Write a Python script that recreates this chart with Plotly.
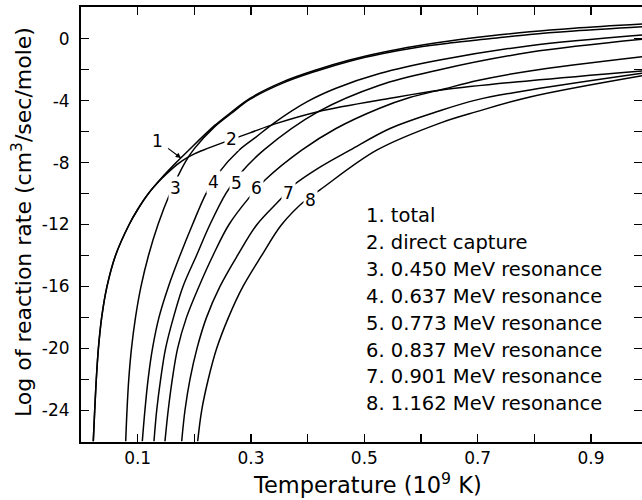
import plotly.graph_objects as go

# ---------------- data ----------------
# Temperature (10^9 K) and log10 reaction rate (cm^3/sec/mole) for each curve
t_total = [0.0217, 0.0242, 0.0270, 0.0307, 0.0365, 0.0459, 0.0609, 0.0850, 0.1005, 0.119,
           0.142, 0.168, 0.190, 0.236, 0.265, 0.298, 0.357, 0.416, 0.474, 0.533,
           0.592, 0.65, 0.72, 0.792, 0.87, 0.99]
y_total = [-26, -24, -22, -20, -18, -16, -14, -12, -11, -10,
           -9, -8, -7.2, -5.6, -4.75, -3.85, -2.77, -2.0, -1.37, -0.87,
           -0.47, -0.15, 0.17, 0.45, 0.68, 0.95]

t_direct = [0.0217, 0.0242, 0.0270, 0.0307, 0.0365, 0.0459, 0.0609, 0.0850, 0.1005, 0.119,
            0.142, 0.16, 0.1777, 0.20, 0.2153, 0.2541, 0.2982, 0.3423, 0.4182, 0.5453,
            0.6388, 0.7924, 0.99]
y_direct = [-26, -24, -22, -20, -18, -16, -14, -12, -11, -10,
            -9.05, -8.42, -7.9, -7.44, -7.2, -6.66, -6.08, -5.5, -4.71, -3.85,
            -3.3, -2.71, -2.08]

t_r450 = [0.0789, 0.0812, 0.0843, 0.0891, 0.0962, 0.1059, 0.1191, 0.1359, 0.1570, 0.1835,
          0.200, 0.236, 0.265, 0.298, 0.357, 0.416, 0.474, 0.533, 0.592, 0.65,
          0.72, 0.792, 0.87, 0.99]
y_r450 = [-26, -24, -22, -20, -18, -16, -14, -12, -10, -8,
          -7.1, -5.68, -4.83, -3.92, -2.85, -2.08, -1.45, -0.95, -0.56, -0.28,
          0.0, 0.28, 0.5, 0.77]

t_r637 = [0.1082, 0.1128, 0.1184, 0.1262, 0.1376, 0.1544, 0.1747, 0.1968, 0.2206, 0.2426,
          0.2788, 0.3088, 0.3423, 0.400, 0.450, 0.5269, 0.633, 0.792, 0.99]
y_r637 = [-26, -24, -22, -20, -18, -16, -14, -12, -10, -8.68,
          -7.2, -6.35, -5.4, -4.05, -3.2, -2.25, -1.38, -0.45, 0.24]

t_r773 = [0.1288, 0.1336, 0.1405, 0.1493, 0.1632, 0.1800, 0.2038, 0.2276, 0.2555, 0.2788,
          0.3229, 0.4187, 0.5269, 0.633, 0.792, 0.99]
y_r773 = [-26, -24, -22, -20, -18, -16, -14, -12, -10, -8.8,
          -7.18, -4.71, -3.0, -2.0, -0.88, -0.04]

t_r837 = [0.1482, 0.1539, 0.1611, 0.1705, 0.1862, 0.2082, 0.2329, 0.2612, 0.2982, 0.3247,
          0.3895, 0.450, 0.5269, 0.580, 0.6388, 0.700, 0.792, 0.99]
y_r837 = [-26, -24, -22, -20, -18, -16, -14, -12, -10.2, -9.13,
          -7.2, -5.8, -4.49, -3.8, -3.26, -2.7, -2.08, -1.16]

t_r901 = [0.1777, 0.1835, 0.1923, 0.2047, 0.2215, 0.2453, 0.2762, 0.3106, 0.3512, 0.3723,
          0.4217, 0.4747, 0.5453, 0.6335, 0.6983, 0.7923, 0.99]
y_r901 = [-26, -24, -22, -20, -18, -16, -14, -12, -10.4, -9.55,
          -8.3, -7.2, -5.8, -4.65, -3.95, -3.31, -2.23]

t_r1162 = [0.2059, 0.2130, 0.2246, 0.2395, 0.2603, 0.2859, 0.3189, 0.3542, 0.3970, 0.4217,
           0.5218, 0.6335, 0.6983, 0.7923, 0.99]
y_r1162 = [-26, -24, -22, -20, -18, -16, -14, -12, -10.4, -9.76,
           -7.2, -5.45, -4.71, -3.76, -2.39]

curve_numbers = ["1", "2", "3", "4", "5", "6", "7", "8"]
legend_labels = ["total", "direct capture", "0.450 MeV resonance", "0.637 MeV resonance",
                 "0.773 MeV resonance", "0.837 MeV resonance", "0.901 MeV resonance",
                 "1.162 MeV resonance"]

x_tick_vals = [0.1, 0.3, 0.5, 0.7, 0.9]
x_tick_text = ["0.1", "0.3", "0.5", "0.7", "0.9"]
y_tick_vals = [-24, -20, -16, -12, -8, -4, 0]
y_tick_text = ["-24", "-20", "-16", "-12", "-8", "-4", "0"]

# ---------------- figure ----------------
FONT = "DejaVu Sans"
W, H = 642, 500
ML, MR, MT, MB = 81, 0, 7, 58
PW, PH = W - ML - MR, H - MT - MB

fig = go.Figure()

series = [(t_total, y_total), (t_direct, y_direct), (t_r450, y_r450), (t_r637, y_r637),
          (t_r773, y_r773), (t_r837, y_r837), (t_r901, y_r901), (t_r1162, y_r1162)]
for t, y in series:
    fig.add_trace(go.Scatter(x=t, y=y, mode="lines",
                             line=dict(color="black", width=1.5, shape="spline", smoothing=1),
                             hoverinfo="skip", showlegend=False))

# curve number labels (positions in data coordinates)
label_pos = [(0.266, -6.45), (0.166, -9.65), (0.233, -9.23), (0.2745, -9.33),
             (0.31, -9.65), (0.366, -9.97), (0.405, -10.4)]
annotations = []
for num, (lx, ly) in zip(curve_numbers[1:], label_pos):
    annotations.append(dict(x=lx, y=ly, xref="x", yref="y", text=num, showarrow=False,
                            font=dict(family=FONT, size=17, color="black"),
                            bgcolor="white", borderpad=1))
# label 1 with arrow
annotations.append(dict(x=0.178, y=-7.75, xref="x", yref="y", text=curve_numbers[0],
                        showarrow=True, ax=-24, ay=-18, arrowhead=2, arrowsize=0.9,
                        arrowwidth=1.2, arrowcolor="black", standoff=1, startstandoff=4,
                        font=dict(family=FONT, size=17, color="black")))


def px_to_paper(px, py):
    return (px - ML) / PW, 1 - (py - MT) / PH


# legend text block
for i, (num, lab) in enumerate(zip(curve_numbers, legend_labels)):
    lx, ly = px_to_paper(364, 215.5 + 26.9 * i)
    annotations.append(dict(x=lx, y=ly, xref="paper", yref="paper",
                            xanchor="left", yanchor="middle", showarrow=False,
                            text=f"{num}. {lab}",
                            font=dict(family=FONT, size=19.5, color="black")))

# axis titles
tx, ty = px_to_paper(22, 222)
annotations.append(dict(x=tx, y=ty, xref="paper", yref="paper",
                        text="Log of reaction rate (cm<sup>3</sup>/sec/mole)", textangle=-90,
                        showarrow=False, xanchor="center", yanchor="middle",
                        font=dict(family=FONT, size=22, color="black")))
tx, ty = px_to_paper(367, 483)
annotations.append(dict(x=tx, y=ty, xref="paper", yref="paper",
                        text="Temperature (10<sup>9</sup> K)", showarrow=False,
                        xanchor="center", yanchor="middle",
                        font=dict(family=FONT, size=22.5, color="black")))

axis_common = dict(ticks="inside", ticklen=8, tickwidth=1.5, tickcolor="black",
                   showline=True, linewidth=2, linecolor="black", mirror="allticks",
                   showgrid=False, zeroline=False, automargin=False,
                   tickfont=dict(family=FONT, size=17, color="black"))

fig.update_xaxes(range=[0, 0.99], tickmode="array", tickvals=x_tick_vals,
                 ticktext=x_tick_text, ticklabelstandoff=0,
                 minor=dict(tick0=0, dtick=0.1, ticks="inside", ticklen=8, tickwidth=1.5,
                            tickcolor="black", showgrid=False),
                 **axis_common)
fig.update_yaxes(range=[-26.05, 2.05], tickmode="array", tickvals=y_tick_vals,
                 ticktext=y_tick_text, ticklabelstandoff=6,
                 minor=dict(tick0=0, dtick=2, ticks="inside", ticklen=8, tickwidth=1.5,
                            tickcolor="black", showgrid=False),
                 **axis_common)

fig.update_layout(width=W, height=H, margin=dict(l=ML, r=MR, t=MT, b=MB, autoexpand=False),
                  plot_bgcolor="white", paper_bgcolor="white", hovermode=False,
                  annotations=annotations, font=dict(family=FONT, color="black"))

fig.write_html("out.html", config={"displayModeBar": False, "staticPlot": True},
               post_script="document.body.style.margin='0';document.body.style.padding='0';")
